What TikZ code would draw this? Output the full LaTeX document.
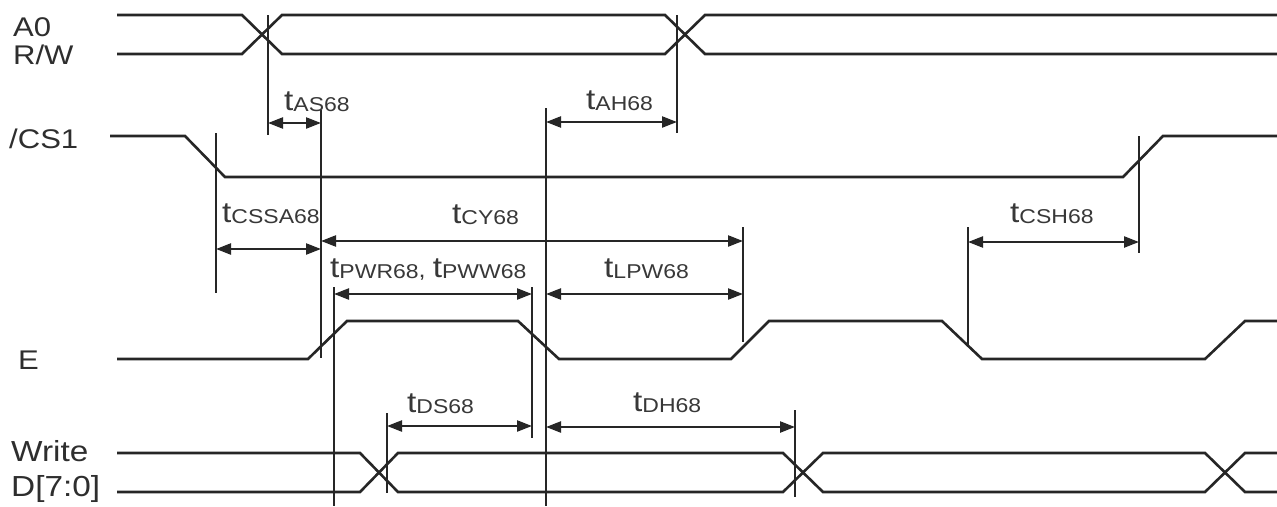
\documentclass[tikz,border=0pt]{standalone}
\usepackage{fontspec}
\setmainfont{Liberation Sans}
\newfontfamily\lblfont[FakeStretch=1.15]{Liberation Sans}
\usetikzlibrary{arrows.meta}
\newcommand{\tsub}[1]{{\fontsize{29}{29}\selectfont t}{\fontsize{20}{20}\selectfont\raisebox{-1pt}{#1}}}
\begin{document}
\begin{tikzpicture}[x=1pt,y=-1pt,
  sig/.style={line width=2.6pt, line join=miter, draw=black!85},
  guide/.style={line width=2.3pt, draw=black!85},
  dim/.style={line width=2.3pt, draw=black!85,
    {Triangle[length=15pt,width=11pt]}-{Triangle[length=15pt,width=11pt]}},
  siglbl/.style={font=\lblfont\fontsize{27}{27}\selectfont, text=black!82, inner sep=0pt, anchor=base west},
  tlbl/.style={font=\lblfont, text=black!78, inner sep=0pt, anchor=base west}]
\useasboundingbox[fill=white] (0,0) rectangle (1277,506);

% signal labels
\node[siglbl] (lA0) at (13,36) {A0};
\node[siglbl] (lRW) at (13,64) {R/W};
\node[siglbl] (lCS) at (9,148) {/CS1};
\node[siglbl] (lE) at (18,369) {E};
\node[siglbl, font=\lblfont\fontsize{29}{29}\selectfont] (lWr) at (11,461) {Write};
\node[siglbl, font=\lblfont\fontsize{29}{29}\selectfont] (lD) at (11,496) {D[7:0]};

% A0 / RW bus
\draw[sig] (117,15) -- (242,15) -- (282,54) -- (665,54) -- (705,15) -- (1277,15);
\draw[sig] (117,54) -- (242,54) -- (282,15) -- (665,15) -- (705,54) -- (1277,54);
% /CS1
\draw[sig] (110,136) -- (185,136) -- (225,177) -- (1123,177) -- (1163,136) -- (1277,136);
% E
\draw[sig] (117,359) -- (308,359) -- (347,321) -- (518,321) -- (559,359) -- (731,359)
  -- (769,321) -- (942,321) -- (982,359) -- (1205,359) -- (1245,321) -- (1277,321);
% Write data bus
\draw[sig] (117,453) -- (360,453) -- (398,492) -- (783,492) -- (823,453) -- (1205,453) -- (1245,492) -- (1277,492);
\draw[sig] (117,492) -- (360,492) -- (398,453) -- (783,453) -- (823,492) -- (1205,492) -- (1245,453) -- (1277,453);

% guide lines
\coordinate (g1t) at (268,15);   \coordinate (g1b) at (268,135);
\coordinate (g2t) at (321,110);  \coordinate (g2b) at (321,358);
\coordinate (g3t) at (216,133);  \coordinate (g3b) at (216,293);
\coordinate (g4t) at (546,108);  \coordinate (g4b) at (546,506);
\coordinate (g5t) at (677,15);   \coordinate (g5b) at (677,133);
\coordinate (g6t) at (1139,136); \coordinate (g6b) at (1139,253);
\coordinate (g7t) at (334,287);  \coordinate (g7b) at (334,506);
\coordinate (g8t) at (532,287);  \coordinate (g8b) at (532,438);
\coordinate (g9t) at (743,227);  \coordinate (g9b) at (743,342);
\coordinate (g10t) at (968,227); \coordinate (g10b) at (968,345);
\coordinate (g11t) at (387,413); \coordinate (g11b) at (387,493);
\coordinate (g12t) at (795,410); \coordinate (g12b) at (795,497);
\foreach \i in {1,...,12} \draw[guide] (g\i t) -- (g\i b);

% dimension arrows
\coordinate (asL) at (268,123);  \coordinate (asR) at (321,123);
\coordinate (ahL) at (546,122);  \coordinate (ahR) at (677,122);
\coordinate (csL) at (216,249);  \coordinate (csR) at (321,249);
\coordinate (cyL) at (321,241);  \coordinate (cyR) at (743,241);
\coordinate (chL) at (968,242);  \coordinate (chR) at (1139,242);
\coordinate (pwL) at (334,294);  \coordinate (pwR) at (532,294);
\coordinate (lpL) at (546,294);  \coordinate (lpR) at (743,294);
\coordinate (dsL) at (387,426);  \coordinate (dsR) at (532,426);
\coordinate (dhL) at (546,427);  \coordinate (dhR) at (795,427);
\draw[dim] (asL) -- (asR);
\draw[dim] (ahL) -- (ahR);
\draw[dim] (csL) -- (csR);
\draw[dim] (cyL) -- (cyR);
\draw[dim] (chL) -- (chR);
\draw[dim] (pwL) -- (pwR);
\draw[dim] (lpL) -- (lpR);
\draw[dim] (dsL) -- (dsR);
\draw[dim] (dhL) -- (dhR);

% timing labels
\node[tlbl] (tAS) at (284,110) {\tsub{AS68}};
\node[tlbl] (tAH) at (586,109) {\tsub{AH68}};
\node[tlbl] (tCSSA) at (222,222) {\tsub{CSSA68}};
\node[tlbl] (tCY) at (452,223) {\tsub{CY68}};
\node[tlbl] (tCSH) at (1010,222) {\tsub{CSH68}};
\node[tlbl] (tPW) at (330,277) {\tsub{PWR68}{\fontsize{22}{22}\selectfont, }\tsub{PWW68}};
\node[tlbl] (tLPW) at (604,277) {\tsub{LPW68}};
\node[tlbl] (tDS) at (407,412) {\tsub{DS68}};
\node[tlbl] (tDH) at (633,411) {\tsub{DH68}};
\end{tikzpicture}
\end{document}
